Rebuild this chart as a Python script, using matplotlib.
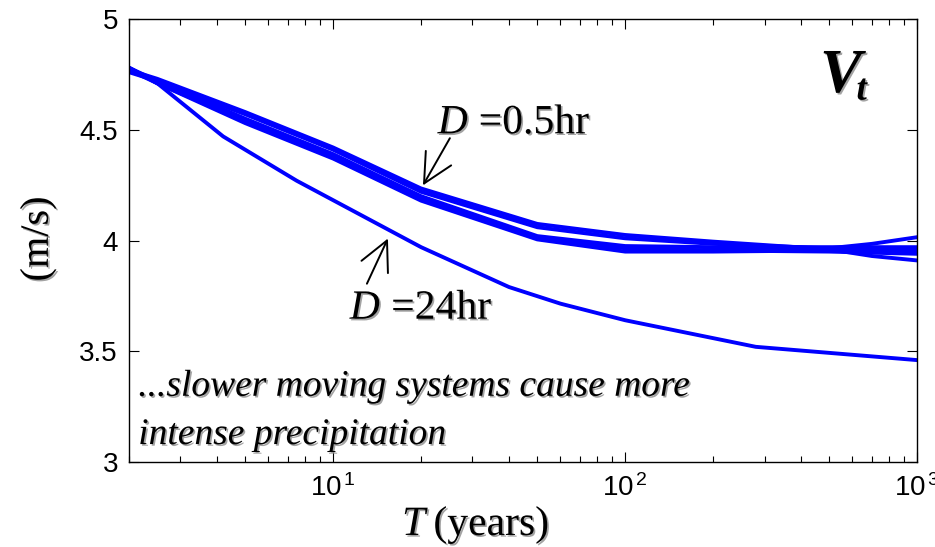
import numpy as np
import matplotlib
matplotlib.use('Agg')
import matplotlib.pyplot as plt
import matplotlib.patheffects as pe

plt.rcParams['font.family'] = 'Liberation Sans'
plt.rcParams['mathtext.fontset'] = 'custom'
plt.rcParams['mathtext.rm'] = 'Liberation Sans'
plt.rcParams['mathtext.it'] = 'Liberation Sans:italic'

# return period grid (years) for the short-duration bundle
T = [2, 2.5, 5, 10, 20, 50, 100, 200, 500, 700, 1000]
# storm velocity (m/s) for the near-identical short durations
v_a = [4.78, 4.72, 4.57, 4.41, 4.22, 4.06, 4.01, 3.985, 3.965, 3.985, 4.015]
v_b = [4.77, 4.73, 4.58, 4.42, 4.235, 4.075, 4.025, 3.995, 3.96, 3.93, 3.91]
v_c = [4.77, 4.71, 4.53, 4.37, 4.18, 4.005, 3.95, 3.95, 3.955, 3.955, 3.955]
v_d = [4.76, 4.72, 4.55, 4.39, 4.20, 4.02, 3.975, 3.97, 3.97, 3.97, 3.97]
v_e = [4.78, 4.71, 4.54, 4.38, 4.19, 4.01, 3.965, 3.955, 3.95, 3.945, 3.94]

# D = 24hr
T_24 = [2, 2.5, 4.2, 7.5, 20, 40, 60, 100, 280, 1000]
v_24 = [4.78, 4.71, 4.47, 4.27, 3.97, 3.79, 3.715, 3.64, 3.52, 3.46]

xticks = [10, 100, 1000]
xticklabels = [r'$10^{\,1}$', r'$10^{\,2}$', r'$10^{\,3}$']
yticks = [3, 3.5, 4, 4.5, 5]
yticklabels = ['3', '3.5', '4', '4.5', '5']

shadow = [pe.withSimplePatchShadow(offset=(1.2, -1.2), shadow_rgbFace='0.55', alpha=0.8)]
serif = 'Liberation Serif'

fig = plt.figure(figsize=(9.35, 5.47), dpi=100)
ax = fig.add_axes([0.138, 0.1554, 0.843, 0.8098])

for v in [v_a, v_b, v_c, v_d, v_e]:
    ax.plot(T, v, color='#0000ff', lw=2.8)
ax.plot(T_24, v_24, color='#0000ff', lw=2.8)

ax.set_xscale('log')
ax.set_xlim(2, 1000)
ax.set_ylim(3, 5)
ax.set_xticks(xticks)
ax.set_xticklabels(xticklabels)
ax.set_yticks(yticks)
ax.set_yticklabels(yticklabels)
ax.tick_params(which='both', direction='in', top=True, right=True, labelsize=20)
ax.tick_params(which='major', length=7, width=0.8, pad=8)
ax.tick_params(axis='x', which='major', pad=9)
ax.tick_params(which='minor', length=4, width=0.8)
for s in ax.spines.values():
    s.set_linewidth(1.0)

# annotations
arr = dict(arrowstyle='->,head_length=0.7,head_width=0.35', color='black', lw=1.4,
           mutation_scale=30, shrinkA=0, shrinkB=0)
ax.annotate('', xy=(20.3, 4.249), xytext=(25.1, 4.462), arrowprops=arr)
ax.annotate('', xy=(15.4, 4.009), xytext=(13.05, 3.805), arrowprops=arr)

ax.text(22.8, 4.484, 'D', fontsize=30, family=serif, style='italic', ha='left', va='baseline',
        path_effects=shadow)
ax.text(31.5, 4.484, '=0.5hr', fontsize=30, family=serif, ha='left', va='baseline',
        path_effects=shadow)
ax.text(11.4, 3.647, 'D', fontsize=30, family=serif, style='italic', ha='left', va='baseline',
        path_effects=shadow)
ax.text(15.8, 3.647, '=24hr', fontsize=30, family=serif, ha='left', va='baseline',
        path_effects=shadow)

ax.text(2.15, 3.299, '...slower moving systems cause more', fontsize=27, family=serif,
        style='italic', ha='left', va='baseline', path_effects=shadow)
ax.text(2.15, 3.081, 'intense precipitation', fontsize=27, family=serif,
        style='italic', ha='left', va='baseline', path_effects=shadow)

# V_t label
fig.text(0.877, 0.832, 'V', fontsize=45, family=serif, style='italic', weight='bold',
         ha='left', va='baseline', path_effects=shadow)
fig.text(0.916, 0.818, 't', fontsize=27, family=serif, style='italic', weight='bold',
         ha='left', va='baseline', path_effects=shadow)

# axis labels
fig.text(0.041, 0.563, '(m/s)', fontsize=29, family=serif, rotation=90,
         ha='center', va='center', path_effects=shadow)
fig.text(0.43, 0.022, 'T', fontsize=30, family=serif, style='italic',
         ha='left', va='baseline', path_effects=shadow)
fig.text(0.4635, 0.022, '(years)', fontsize=30, family=serif,
         ha='left', va='baseline', path_effects=shadow)

plt.savefig('out.png', dpi=100)
